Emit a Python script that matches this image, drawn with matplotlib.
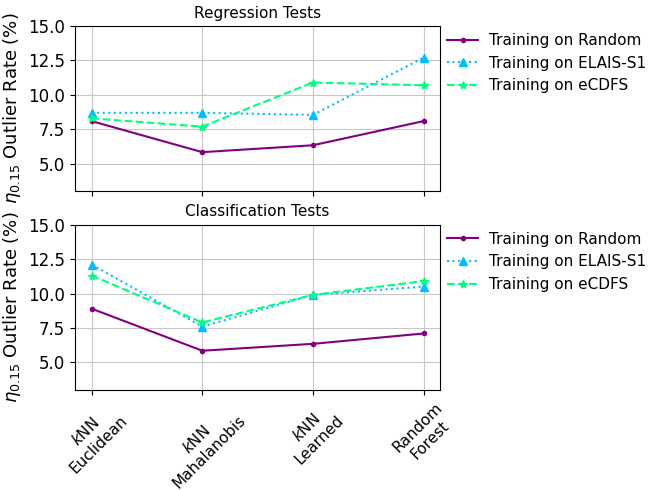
import numpy as np
import matplotlib.pyplot as plt

# ------------- dados -------------------
metodos = ["$k$NN\nEuclidean", "$k$NN\nMahalanobis", "$k$NN\nLearned", "Random\nForest"]

reg_random = [8.1, 5.85, 6.35, 8.1]
reg_elais = [8.7, 8.7, 8.55, 12.7]
reg_ecdfs = [8.3, 7.7, 10.9, 10.7]

cls_random = [8.9, 5.85, 6.35, 7.1]
cls_elais = [12.1, 7.6, 9.9, 10.5]
cls_ecdfs = [11.3, 7.9, 9.9, 10.9]

x = np.arange(len(metodos))

fig, (ax1, ax2) = plt.subplots(2, 1, figsize=(6.53, 4.9), dpi=100, sharex=True)
fig.subplots_adjust(left=0.115, right=0.674, top=0.947, bottom=0.204, hspace=0.2)


def painel(ax, r, e, c, titulo):
    ax.plot(x, r, color="purple", marker=".", ls="-", label="Training on Random")
    ax.plot(x, e, color="deepskyblue", marker="^", ls=":", label="Training on ELAIS-S1")
    ax.plot(x, c, color="springgreen", marker="*", ls="--", label="Training on eCDFS")
    ax.set_ylim(3, 15)
    ax.set_yticks([5.0, 7.5, 10.0, 12.5, 15.0])
    ax.tick_params(labelsize=12)
    ax.grid(color="#c8c8c8")
    ax.set_title(titulo, fontsize=11)
    ax.set_ylabel(r"$\eta_{0.15}$ Outlier Rate (%)", fontsize=13)
    ax.legend(loc="upper left", bbox_to_anchor=(0.982, 1.04), frameon=False,
              fontsize=11, handlelength=2.0, handletextpad=0.7)


painel(ax1, reg_random, reg_elais, reg_ecdfs, "Regression Tests")
painel(ax2, cls_random, cls_elais, cls_ecdfs, "Classification Tests")

ax2.set_xticks(x)
ax2.set_xticklabels(metodos, rotation=45, fontsize=11)

fig.savefig("out.png", dpi=100)
